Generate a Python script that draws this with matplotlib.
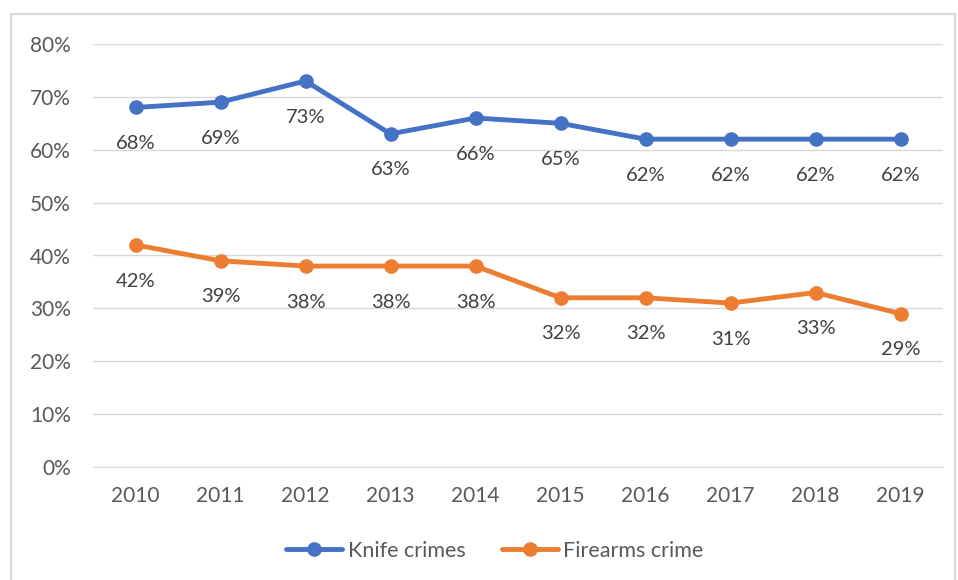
import matplotlib.pyplot as plt
from matplotlib.patches import Rectangle
from matplotlib.ticker import PercentFormatter

years = ['2010', '2011', '2012', '2013', '2014', '2015', '2016', '2017', '2018', '2019']
knife = [68, 69, 73, 63, 66, 65, 62, 62, 62, 62]
firearms = [42, 39, 38, 38, 38, 32, 32, 31, 33, 29]
series_names = ['Knife crimes', 'Firearms crime']

plt.rcParams['font.family'] = ['Lato', 'DejaVu Sans']

W, H = 958, 580
fig = plt.figure(figsize=(W / 100, H / 100), dpi=100)
ax = fig.add_axes([93 / W, 1 - 467 / H, 850 / W, (467 - 44) / H])

# outer chart border
fig.patches.append(Rectangle((11 / W, -0.05), (955 - 11) / W, 1.05 - 14 / H,
                             transform=fig.transFigure, fill=False,
                             edgecolor='#d9d9d9', linewidth=1.5))

x = range(len(years))
ax.plot(x, knife, '-o', color='#4472C4', linewidth=3.5, markersize=9.5,
        label=series_names[0], solid_capstyle='round')
ax.plot(x, firearms, '-o', color='#ED7D31', linewidth=3.5, markersize=9.5,
        label=series_names[1], solid_capstyle='round')

for vals in (knife, firearms):
    for i, v in enumerate(vals):
        ax.annotate(f'{v}%', (i, v), textcoords='offset points', xytext=(0, -26),
                    ha='center', va='center', fontsize=14.5, color='#404040')

ax.set_xlim(-0.5, len(years) - 0.5)
ax.set_ylim(0, 80)
ax.set_yticks(range(0, 81, 10))
ax.yaxis.set_major_formatter(PercentFormatter(decimals=0))
ax.set_xticks(list(x))
ax.set_xticklabels(years)
ax.grid(axis='y', color='#d9d9d9', linewidth=1)
ax.set_axisbelow(True)
for s in ['top', 'right', 'left']:
    ax.spines[s].set_visible(False)
ax.spines['bottom'].set_color('#d9d9d9')
ax.tick_params(length=0, labelsize=15, labelcolor='#595959', pad=14)
ax.tick_params(axis='y', pad=16)

fig.legend(loc='center', bbox_to_anchor=(495 / W, 1 - 551 / H), ncol=2,
           frameon=False, fontsize=15.5, labelcolor='#595959',
           handlelength=2.6, handletextpad=0.25, columnspacing=1.7)

fig.savefig('out.png', dpi=100)
